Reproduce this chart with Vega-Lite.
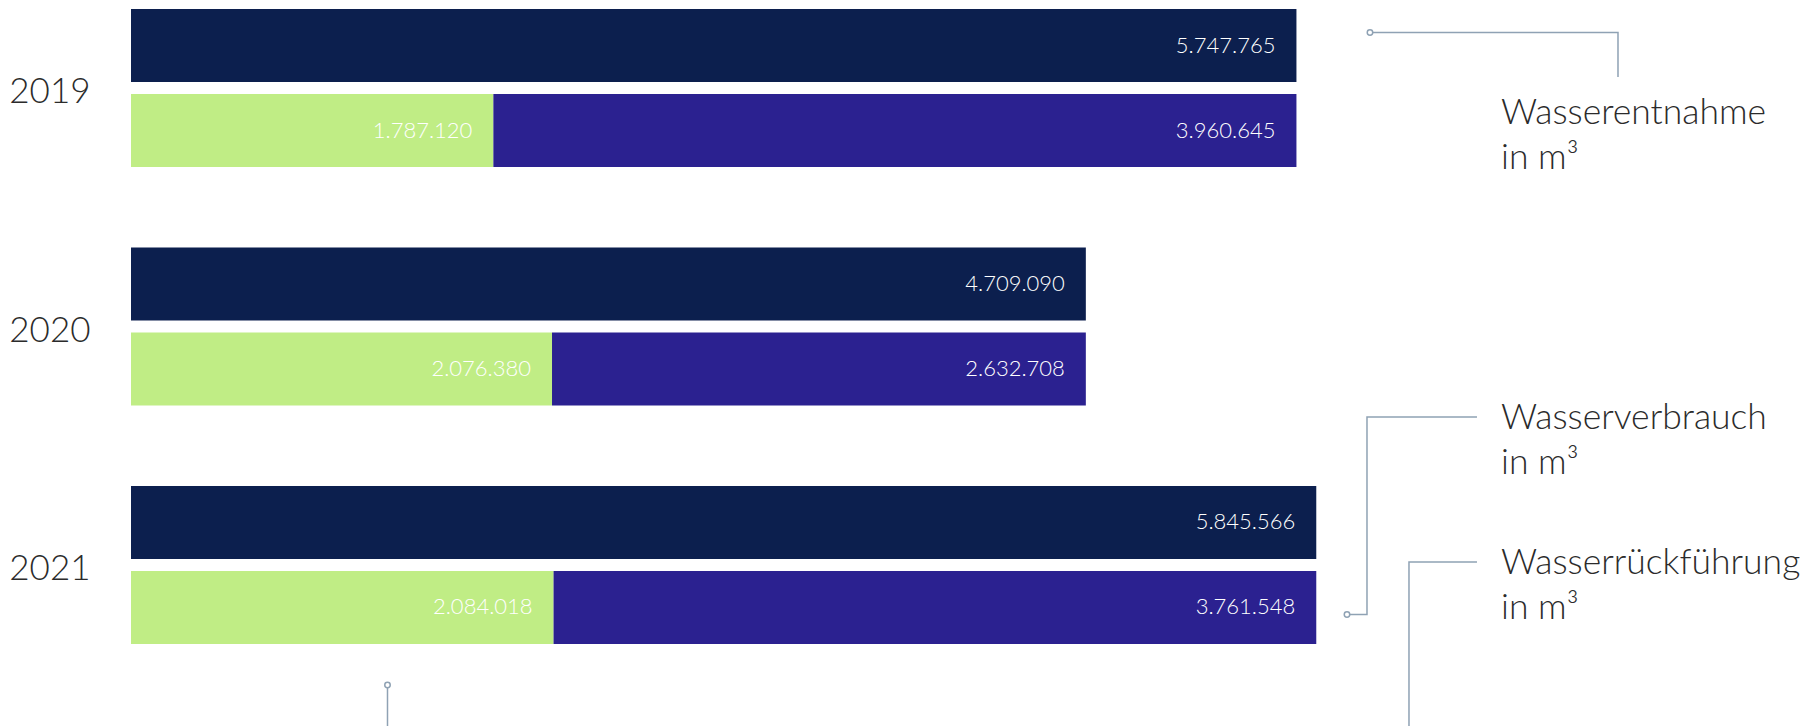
{
  "$schema": "https://vega.github.io/schema/vega-lite/v6.json",
  "width": 1687,
  "height": 635,
  "autosize": {"type": "none"},
  "padding": {"left": 131, "top": 9, "right": 0, "bottom": 82},
  "background": "white",
  "config": {
    "view": {"stroke": null},
    "font": "Lato",
    "locale": {"number": {"decimal": ",", "thousands": ".", "grouping": [3], "currency": ["", " €"]}}
  },
  "datasets": {
    "werte": [
      {"Jahr": "2019", "Reihe": "Entnahme", "Kategorie": "Wasserentnahme", "Wert": 5747765},
      {"Jahr": "2019", "Reihe": "Aufteilung", "Kategorie": "Wasserrückführung", "Wert": 1787120},
      {"Jahr": "2019", "Reihe": "Aufteilung", "Kategorie": "Wasserverbrauch", "Wert": 3960645},
      {"Jahr": "2020", "Reihe": "Entnahme", "Kategorie": "Wasserentnahme", "Wert": 4709090},
      {"Jahr": "2020", "Reihe": "Aufteilung", "Kategorie": "Wasserrückführung", "Wert": 2076380},
      {"Jahr": "2020", "Reihe": "Aufteilung", "Kategorie": "Wasserverbrauch", "Wert": 2632708},
      {"Jahr": "2021", "Reihe": "Entnahme", "Kategorie": "Wasserentnahme", "Wert": 5845566},
      {"Jahr": "2021", "Reihe": "Aufteilung", "Kategorie": "Wasserrückführung", "Wert": 2084018},
      {"Jahr": "2021", "Reihe": "Aufteilung", "Kategorie": "Wasserverbrauch", "Wert": 3761548}
    ],
    "linien": [
      {"Linie": "Entnahme", "Schritt": 1, "x": 6110500, "y": 2018.765},
      {"Linie": "Entnahme", "Schritt": 2, "x": 7333600, "y": 2018.765},
      {"Linie": "Entnahme", "Schritt": 3, "x": 7333600, "y": 2018.952},
      {"Linie": "Verbrauch", "Schritt": 1, "x": 5997100, "y": 2021.208},
      {"Linie": "Verbrauch", "Schritt": 2, "x": 6095700, "y": 2021.208},
      {"Linie": "Verbrauch", "Schritt": 3, "x": 6095700, "y": 2020.379},
      {"Linie": "Verbrauch", "Schritt": 4, "x": 6638200, "y": 2020.379},
      {"Linie": "Rückführung", "Schritt": 1, "x": 6638200, "y": 2020.987},
      {"Linie": "Rückführung", "Schritt": 2, "x": 6302800, "y": 2020.987},
      {"Linie": "Rückführung", "Schritt": 3, "x": 6302800, "y": 2021.676},
      {"Linie": "Rückführung unten", "Schritt": 1, "x": 1265000, "y": 2021.504},
      {"Linie": "Rückführung unten", "Schritt": 2, "x": 1265000, "y": 2021.676}
    ],
    "punkte": [
      {"Linie": "Entnahme", "x": 6110500, "y": 2018.765},
      {"Linie": "Verbrauch", "x": 5997100, "y": 2021.208},
      {"Linie": "Rückführung unten", "x": 1265000, "y": 2021.504}
    ],
    "texte": [
      {"Text": "Wasserentnahme\n in m³", "x": 6756600, "y": 2019.149},
      {"Text": "Wasserverbrauch\nin m³", "x": 6756600, "y": 2020.429},
      {"Text": "Wasserrückführung\nin m³", "x": 6756600, "y": 2021.038}
    ]
  },
  "layer": [
    {
      "data": {"name": "werte"},
      "encoding": {
        "y": {
          "field": "Jahr", "type": "nominal",
          "scale": {"paddingInner": 0.337, "paddingOuter": 0},
          "axis": {
            "title": null, "domain": false, "ticks": false, "tickSize": 0, "grid": false,
            "labelAlign": "right", "labelBaseline": "middle", "labelPadding": 41, "labelOffset": 4,
            "labelFontSize": 35, "labelFont": "Lato", "labelFontWeight": 300, "labelColor": "#2b2b2b"
          }
        },
        "yOffset": {
          "field": "Reihe", "type": "nominal", "sort": ["Entnahme", "Aufteilung"],
          "scale": {"paddingInner": 0.14, "paddingOuter": 0}
        },
        "x": {
          "field": "Wert", "type": "quantitative", "stack": "zero",
          "scale": {"domain": [0, 8320000], "nice": false, "zero": true},
          "axis": null
        },
        "detail": {"field": "Kategorie", "type": "nominal"},
        "order": {"field": "Kategorie", "sort": "ascending"}
      },
      "layer": [
        {
          "mark": {"type": "bar"},
          "encoding": {
            "color": {
              "field": "Kategorie", "type": "nominal",
              "scale": {
                "domain": ["Wasserentnahme", "Wasserrückführung", "Wasserverbrauch"],
                "range": ["#0C1F4E", "#C0ED85", "#2B2190"]
              },
              "legend": null
            }
          }
        },
        {
          "mark": {"type": "text", "align": "right", "baseline": "middle", "dx": -21, "fontSize": 22, "fontWeight": 300, "fill": "white", "color": "white"},
          "encoding": {
            "text": {"field": "Wert", "type": "quantitative", "format": ",.0f"}
          }
        }
      ]
    },
    {
      "encoding": {
        "x": {"field": "x", "type": "quantitative", "scale": {"domain": [0, 8320000], "nice": false, "zero": true}, "axis": null},
        "y": {"field": "y", "type": "quantitative", "scale": {"domain": [2018.6663, 2021.3316], "reverse": true, "nice": false, "zero": false}, "axis": null}
      },
      "layer": [
        {
          "data": {"name": "linien"},
          "mark": {"type": "line", "stroke": "#8FA2B4", "strokeWidth": 1.5, "interpolate": "linear"},
          "encoding": {
            "detail": {"field": "Linie", "type": "nominal"},
            "order": {"field": "Schritt", "type": "quantitative"}
          }
        },
        {
          "data": {"name": "punkte"},
          "mark": {"type": "point", "shape": "circle", "size": 30, "filled": true, "fill": "white", "stroke": "#8FA2B4", "strokeWidth": 1.5, "opacity": 1}
        },
        {
          "data": {"name": "texte"},
          "mark": {"type": "text", "align": "left", "baseline": "alphabetic", "fontSize": 35.5, "fontWeight": 300, "color": "#2b2b2b", "lineBreak": "\n", "lineHeight": 45},
          "encoding": {
            "text": {"field": "Text", "type": "nominal"}
          }
        }
      ]
    }
  ],
  "resolve": {"scale": {"y": "independent"}}
}
